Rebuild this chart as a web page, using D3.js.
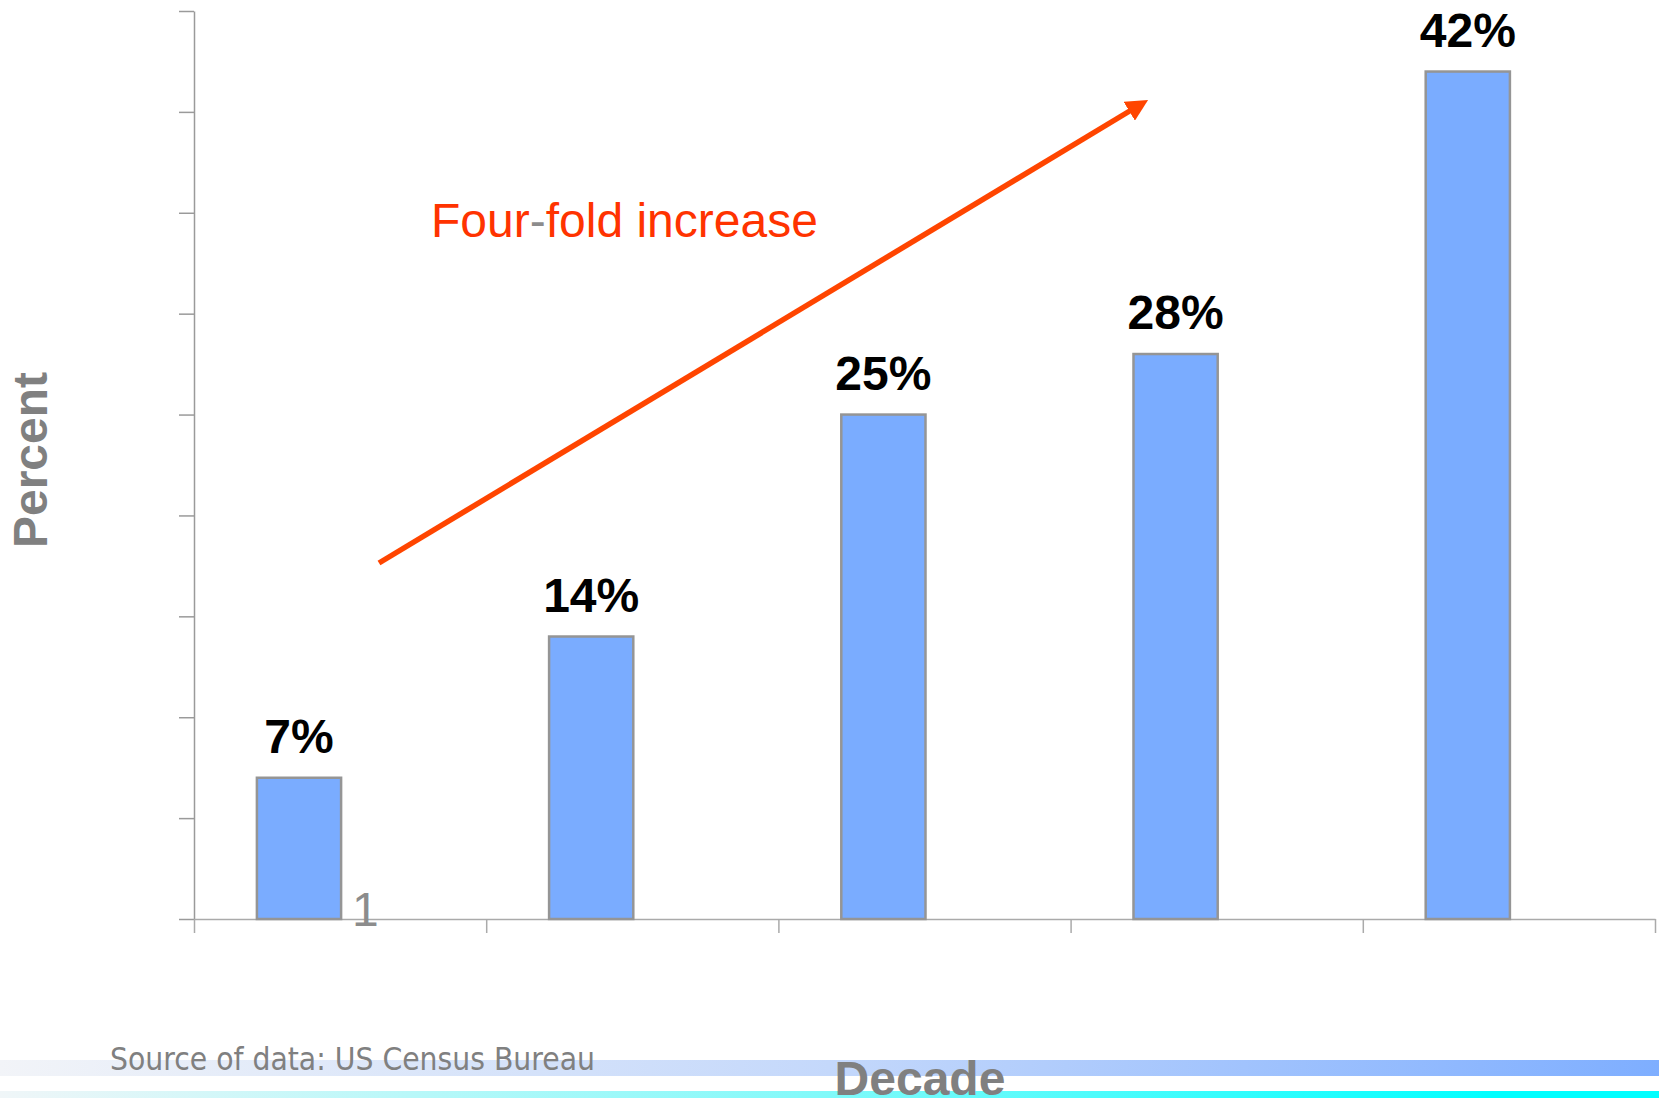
<!DOCTYPE html>
<html>
<head>
<meta charset="utf-8">
<script src="https://cdn.jsdelivr.net/npm/d3@7"></script>
<style>
  body { margin: 0; background: #fff; }
  svg { display: block; }
</style>
</head>
<body>
<div id="chart"></div>
<script>
// data
var decades = ["d1", "d2", "d3", "d4", "d5"];
var percents = [7, 14, 25, 28, 42];
var labels = ["7%", "14%", "25%", "28%", "42%"];
var series = ["1", "2"];
var yTicks = [0, 5, 10, 15, 20, 25, 30, 35, 40, 45];

var svgWidth = 1659, svgHeight = 1098;
var margin = {top: 11, right: 4, bottom: 179, left: 194};
var width = svgWidth - margin.left - margin.right;
var height = svgHeight - margin.top - margin.bottom;

var svg = d3.select("#chart").append("svg")
  .attr("width", svgWidth)
  .attr("height", svgHeight);

// footer gradient bands
var defs = svg.append("defs");
var g1 = defs.append("linearGradient").attr("id", "band1");
g1.append("stop").attr("offset", "0%").attr("stop-color", "#f2f4f8");
g1.append("stop").attr("offset", "50%").attr("stop-color", "#c4d8fb");
g1.append("stop").attr("offset", "100%").attr("stop-color", "#7eaeff");
var g2 = defs.append("linearGradient").attr("id", "band2");
g2.append("stop").attr("offset", "0%").attr("stop-color", "#f0f6f8");
g2.append("stop").attr("offset", "50%").attr("stop-color", "#80fafa");
g2.append("stop").attr("offset", "90%").attr("stop-color", "#00ffff");
g2.append("stop").attr("offset", "100%").attr("stop-color", "#00ffff");

svg.append("rect").attr("x", 0).attr("y", 1060).attr("width", svgWidth).attr("height", 16)
  .attr("fill", "url(#band1)");
svg.append("rect").attr("x", 0).attr("y", 1091).attr("width", svgWidth).attr("height", 7)
  .attr("fill", "url(#band2)");

var g = svg.append("g")
  .attr("transform", "translate(" + margin.left + "," + margin.top + ")");

var x = d3.scaleBand().domain(decades).range([0, width]);
var xSub = d3.scaleBand().domain(series).range([0, x.bandwidth()])
  .paddingInner(0).paddingOuter(0.735);
var y = d3.scaleLinear().domain([0, 45]).range([height, 0]);

// y axis
var yAxis = g.append("g")
  .call(d3.axisLeft(y).tickValues(yTicks).tickFormat("").tickSize(15).tickSizeOuter(0));
yAxis.selectAll("line, path").attr("stroke", "#9a9a9a").attr("stroke-width", 1.5);

// x axis with ticks on the band edges
var xEdge = d3.scaleLinear().domain([0, decades.length]).range([0, width]);
var xAxis = g.append("g")
  .attr("transform", "translate(0," + height + ")")
  .call(d3.axisBottom(xEdge).ticks(decades.length).tickFormat("").tickSize(14).tickSizeOuter(0));
xAxis.selectAll("line, path").attr("stroke", "#aaaaaa").attr("stroke-width", 1.5);

// bars
g.selectAll(".bar")
  .data(percents)
  .enter().append("rect")
  .attr("class", "bar")
  .attr("x", function(d, i) { return x(decades[i]) + xSub("1") + 1; })
  .attr("y", function(d) { return y(d); })
  .attr("width", xSub.bandwidth())
  .attr("height", function(d) { return height - y(d); })
  .attr("fill", "#7aacff")
  .attr("stroke", "#959595")
  .attr("stroke-width", 2.5);

// value labels
g.selectAll(".lbl")
  .data(percents)
  .enter().append("text")
  .attr("class", "lbl")
  .attr("x", function(d, i) { return x(decades[i]) + xSub("1") + 1 + xSub.bandwidth() / 2; })
  .attr("y", function(d) { return y(d) - 25; })
  .attr("text-anchor", "middle")
  .style("font-family", "'Liberation Sans', Arial, sans-serif")
  .style("font-weight", "bold")
  .style("font-size", "48px")
  .attr("fill", "#000")
  .text(function(d, i) { return labels[i]; });

// stray series label "1"
g.append("text")
  .attr("x", x(decades[0]) + xSub("1") + xSub.bandwidth() + 12)
  .attr("y", height + 7)
  .style("font-family", "'Liberation Sans', Arial, sans-serif")
  .style("font-size", "48px")
  .attr("fill", "#8c8c8c")
  .text(series[0]);

// arrow
defs.append("marker")
  .attr("id", "head")
  .attr("viewBox", "0 0 10 10")
  .attr("refX", 2).attr("refY", 5)
  .attr("markerWidth", 4).attr("markerHeight", 4)
  .attr("orient", "auto")
  .append("path").attr("d", "M0,0 L10,5 L0,10 z").attr("fill", "#ff4500");

svg.append("line")
  .attr("x1", 379).attr("y1", 563)
  .attr("x2", 1133).attr("y2", 109)
  .attr("stroke", "#ff4500")
  .attr("stroke-width", 5.5)
  .attr("marker-end", "url(#head)");

// annotation
var ann = svg.append("text")
  .attr("x", 431).attr("y", 237)
  .style("font-family", "'Liberation Sans', Arial, sans-serif")
  .style("font-size", "48px")
  .attr("fill", "#ff3300");
ann.append("tspan").text("Four");
ann.append("tspan").attr("fill", "#8c8c8c").text("-");
ann.append("tspan").text("fold increase");

// axis titles
svg.append("text")
  .attr("transform", "translate(47,460) rotate(-90)")
  .attr("text-anchor", "middle")
  .style("font-family", "'Liberation Sans', Arial, sans-serif")
  .style("font-weight", "bold")
  .style("font-size", "48px")
  .attr("fill", "#808080")
  .text("Percent");

svg.append("text")
  .attr("x", 920).attr("y", 1095)
  .attr("text-anchor", "middle")
  .style("font-family", "'Liberation Sans', Arial, sans-serif")
  .style("font-weight", "bold")
  .style("font-size", "48px")
  .attr("fill", "#808080")
  .text("Decade");

svg.append("text")
  .attr("x", 110).attr("y", 1070)
  .attr("textLength", 485)
  .attr("lengthAdjust", "spacingAndGlyphs")
  .style("font-family", "'DejaVu Sans', sans-serif")
  .style("font-size", "32px")
  .attr("fill", "#808080")
  .text("Source of data: US Census Bureau");
</script>
</body>
</html>
